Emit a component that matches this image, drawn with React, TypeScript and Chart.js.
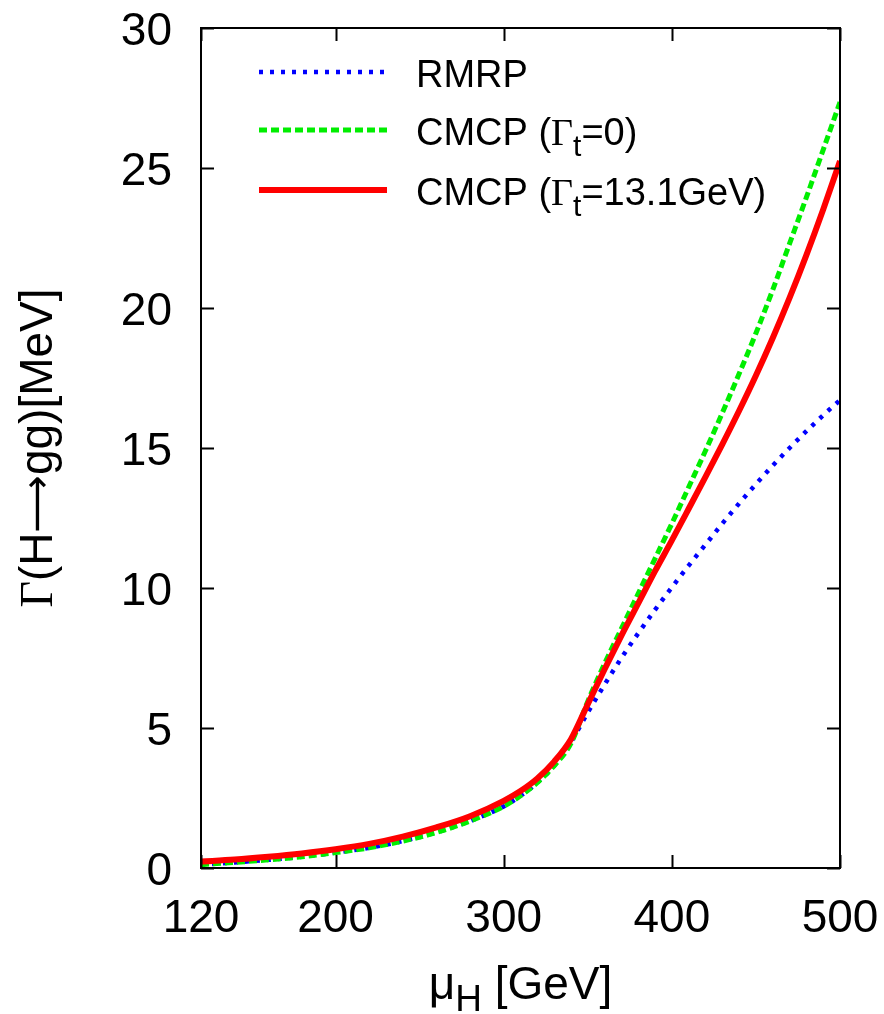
import React, { useEffect, useRef } from "react";
import { Chart, registerables } from "chart.js";

Chart.register(...registerables);

// ---- data ----
const massGeV = [120, 140, 160, 180, 200, 220, 240, 260, 280, 300, 310, 320, 330, 340, 350, 360, 370, 380, 390, 400, 410, 420, 430, 440, 450, 460, 470, 480, 490, 500];
const rmrp = [0.12, 0.2, 0.29, 0.4, 0.55, 0.72, 0.96, 1.27, 1.68, 2.2, 2.58, 3.05, 3.65, 4.5, 5.55, 6.55, 7.5, 8.38, 9.22, 10.02, 10.8, 11.55, 12.3, 13.02, 13.71, 14.37, 15.0, 15.6, 16.17, 16.71];
const cmcpZeroWidth = [0.12, 0.2, 0.29, 0.4, 0.55, 0.72, 0.96, 1.27, 1.68, 2.2, 2.58, 3.05, 3.65, 4.45, 5.95, 7.3, 8.55, 9.8, 11.05, 12.3, 13.6, 14.9, 16.25, 17.65, 19.1, 20.65, 22.3, 23.95, 25.65, 27.35];
const cmcpFiniteWidth = [0.23, 0.3, 0.4, 0.52, 0.67, 0.86, 1.12, 1.45, 1.85, 2.4, 2.75, 3.2, 3.8, 4.6, 5.85, 7.1, 8.3, 9.45, 10.6, 11.7, 12.83, 13.97, 15.13, 16.33, 17.59, 18.93, 20.36, 21.89, 23.52, 25.25];
const xTickValues = [120, 200, 300, 400, 500];
const yTickValues = [0, 5, 10, 15, 20, 25, 30];
const seriesNames = ["RMRP", "CMCP (Γt=0)", "CMCP (Γt=13.1GeV)"];

const SANS = "'Liberation Sans', Arial, Helvetica, sans-serif";
const SERIF = "'Liberation Serif', 'Times New Roman', serif";
const ARROWFONT = "'DejaVu Sans', sans-serif";

type Seg = { text: string; font: string; dy?: number };

function segWidth(ctx: CanvasRenderingContext2D, segs: Seg[]) {
  let w = 0;
  for (const s of segs) {
    ctx.font = s.font;
    w += ctx.measureText(s.text).width;
  }
  return w;
}

function drawSegs(ctx: CanvasRenderingContext2D, segs: Seg[], x: number, y: number, align: "left" | "center" | "right") {
  const w = segWidth(ctx, segs);
  let cx = align === "left" ? x : align === "center" ? x - w / 2 : x - w;
  ctx.textAlign = "left";
  ctx.textBaseline = "alphabetic";
  for (const s of segs) {
    ctx.font = s.font;
    ctx.fillText(s.text, cx, y + (s.dy || 0));
    cx += ctx.measureText(s.text).width;
  }
}

function gammaLabel(prefix: string, rest: string, size: number): Seg[] {
  return [
    { text: prefix, font: `${size}px ${SANS}` },
    { text: "Γ", font: `${size}px ${SERIF}` },
    { text: "t", font: `${Math.round(size * 0.8)}px ${SANS}`, dy: size * 0.3 },
    { text: rest, font: `${size}px ${SANS}` },
  ];
}

const framePlugin = {
  id: "gnuplotFrame",
  afterDatasetsDraw(chart: any) {
    const { ctx, chartArea, scales } = chart;
    const { left, right, top, bottom } = chartArea;
    ctx.save();
    ctx.strokeStyle = "#000";
    ctx.lineWidth = 2;
    ctx.strokeRect(left, top, right - left, bottom - top);
    const tl = 13;
    ctx.beginPath();
    for (const v of xTickValues) {
      const px = Math.round(scales.x.getPixelForValue(v)) + 0.5;
      ctx.moveTo(px, bottom);
      ctx.lineTo(px, bottom - tl);
      ctx.moveTo(px, top);
      ctx.lineTo(px, top + tl);
    }
    for (const v of yTickValues) {
      const py = Math.round(scales.y.getPixelForValue(v)) + 0.5;
      ctx.moveTo(left, py);
      ctx.lineTo(left + tl, py);
      ctx.moveTo(right, py);
      ctx.lineTo(right - tl, py);
    }
    ctx.stroke();
    ctx.restore();
  },
  afterDraw(chart: any) {
    const { ctx, chartArea, scales } = chart;
    const { left, right, top, bottom } = chartArea;
    ctx.save();
    ctx.fillStyle = "#000";
    const tickFont = `46px ${SANS}`;
    for (const v of xTickValues) {
      const px = scales.x.getPixelForValue(v);
      drawSegs(ctx, [{ text: String(v), font: tickFont }], px, bottom + 64, "center");
    }
    for (const v of yTickValues) {
      const py = scales.y.getPixelForValue(v);
      drawSegs(ctx, [{ text: String(v), font: tickFont }], left - 29, py + 16.5, "right");
    }
    // x title
    const xc = (left + right) / 2;
    drawSegs(
      ctx,
      [
        { text: "μ", font: `46px ${SANS}` },
        { text: "H", font: `37px ${SANS}`, dy: 12 },
        { text: " [GeV]", font: `46px ${SANS}` },
      ],
      xc,
      999,
      "center"
    );
    // y title (rotated)
    ctx.save();
    ctx.translate(52, (top + bottom) / 2);
    ctx.rotate(-Math.PI / 2);
    drawSegs(
      ctx,
      [
        { text: "Γ", font: `46px ${SERIF}` },
        { text: "(H", font: `46px ${SANS}` },
        { text: "⟶", font: `40px ${ARROWFONT}`, dy: -2 },
        { text: "gg)[MeV]", font: `46px ${SANS}` },
      ],
      0,
      0,
      "center"
    );
    ctx.restore();

    // legend
    const rows = [
      { y: 72, color: "#0000ff", dash: [4, 7], width: 4.5 },
      { y: 130, color: "#00ee00", dash: [8, 4], width: 5 },
      { y: 190, color: "#ff0000", dash: [], width: 6 },
    ];
    const labels: Seg[][] = [
      [{ text: seriesNames[0], font: `38px ${SANS}` }],
      gammaLabel("CMCP (", "=0)", 38),
      gammaLabel("CMCP (", "=13.1GeV)", 38),
    ];
    rows.forEach((r, i) => {
      ctx.save();
      ctx.strokeStyle = r.color;
      ctx.lineWidth = r.width;
      ctx.setLineDash(r.dash);
      ctx.lineCap = "butt";
      ctx.beginPath();
      ctx.moveTo(259, r.y);
      ctx.lineTo(387, r.y);
      ctx.stroke();
      ctx.restore();
      ctx.fillStyle = "#000";
      drawSegs(ctx, labels[i], 416, r.y + 15, "left");
    });
    ctx.restore();
  },
};

export default function App() {
  const canvasRef = useRef<HTMLCanvasElement | null>(null);

  useEffect(() => {
    const canvas = canvasRef.current;
    if (!canvas) return;
    const chart = new Chart(canvas, {
      type: "line",
      data: {
        labels: massGeV,
        datasets: [
          {
            label: seriesNames[2],
            data: massGeV.map((x, i) => ({ x, y: cmcpFiniteWidth[i] })),
            borderColor: "#ff0000",
            borderWidth: 6,
            pointRadius: 0,
            cubicInterpolationMode: "monotone",
            order: 0,
          },
          {
            label: seriesNames[1],
            data: massGeV.map((x, i) => ({ x, y: cmcpZeroWidth[i] })),
            borderColor: "#00ee00",
            borderWidth: 5,
            borderDash: [8, 4],
            pointRadius: 0,
            cubicInterpolationMode: "monotone",
            order: 1,
          },
          {
            label: seriesNames[0],
            data: massGeV.map((x, i) => ({ x, y: rmrp[i] })),
            borderColor: "#0000ff",
            borderWidth: 4.5,
            borderDash: [4, 7],
            pointRadius: 0,
            cubicInterpolationMode: "monotone",
            order: 2,
          },
        ],
      },
      options: {
        animation: false,
        responsive: false,
        maintainAspectRatio: false,
        layout: { padding: { left: 201, right: 44, top: 28, bottom: 146 } },
        plugins: { legend: { display: false }, tooltip: { enabled: false } },
        scales: {
          x: {
            type: "linear",
            min: 120,
            max: 500,
            display: true,
            grid: { display: false, drawTicks: false },
            border: { display: false },
            ticks: { display: false },
          },
          y: {
            type: "linear",
            min: 0,
            max: 30,
            display: true,
            grid: { display: false, drawTicks: false },
            border: { display: false },
            ticks: { display: false },
          },
        },
      },
      plugins: [framePlugin],
    });
    return () => chart.destroy();
  }, []);

  return (
    <div style={{ position: "absolute", left: 0, top: 0, width: 884, height: 1014, background: "#fff" }}>
      <canvas ref={canvasRef} width={884} height={1014} style={{ width: 884, height: 1014, display: "block" }} />
    </div>
  );
}
